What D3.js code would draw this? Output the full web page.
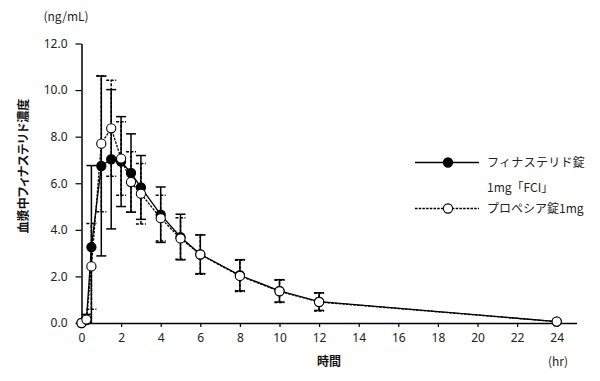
<!DOCTYPE html>
<html><head><meta charset="utf-8">
<script src="https://cdn.jsdelivr.net/npm/d3@7"></script>
<style>
body{margin:0;background:#fff;}
text{font-family:"Noto Sans CJK JP","Noto Sans",sans-serif;}
</style></head>
<body>
<svg id="c" width="600" height="381"></svg>
<script>
const times = [0, 0.25, 0.5, 1, 1.5, 2, 2.5, 3, 4, 5, 6, 8, 10, 12, 24];
const fciMean = [0, 0.12, 3.26, 6.74, 7.03, 6.93, 6.44, 5.82, 4.65, 3.69, 2.95, 2.05, 1.38, 0.92, 0.06];
const fciSD   = [0, 0.25, 3.5, 3.86, 2.99, 1.93, 1.68, 1.37, 1.19, 0.98, 0.83, 0.67, 0.48, 0.38, 0.04];
const propMean = [0, 0.15, 2.43, 7.7, 8.36, 7.06, 6.05, 5.55, 4.5, 3.63, 2.94, 2.02, 1.36, 0.9, 0.06];
const propSD   = [0, 0.1, 1.84, 2.92, 2.06, 1.58, 1.3, 1.3, 0.98, 0.89, 0.85, 0.67, 0.48, 0.38, 0.04];
const xTicks = [0,2,4,6,8,10,12,14,16,18,20,22,24];
const yTicks = [0,2,4,6,8,10,12];
const seriesNames = ["フィナステリド錠", "1mg「FCI」", "プロペシア錠1mg"];
const yTitle = "血漿中フィナステリド濃度";
const xTitle = "時間";
const yUnit = "(ng/mL)";
const xUnit = "(hr)";

const svg = d3.select("#c");
const x = d3.scaleLinear().domain([0,25]).range([81.5,576.5]);
const y = d3.scaleLinear().domain([0,12]).range([323,43.5]);

// axes
const xa = svg.append("g").attr("transform","translate(0,"+y(0)+")")
  .call(d3.axisBottom(x).tickValues(xTicks).tickSize(4).tickPadding(6).tickSizeOuter(0).tickFormat(d3.format("d")));
const ya = svg.append("g").attr("transform","translate("+x(0)+",0)")
  .call(d3.axisLeft(y).tickValues(yTicks).tickSize(6).tickPadding(8).tickSizeOuter(0).tickFormat(d3.format(".1f")));
[xa,ya].forEach(a=>{
  a.select(".domain").attr("stroke","#000").attr("stroke-width",1.5);
  a.selectAll(".tick line").attr("stroke","#000").attr("stroke-width",1.2);
  a.selectAll(".tick text").attr("font-size",12).attr("fill","#222")
   .style("font-family","'Noto Sans','Noto Sans CJK JP',sans-serif");
});

const series = [
  {mean: fciMean, sd: fciSD, dash: null, fill: "#000"},
  {mean: propMean, sd: propSD, dash: "3,1.5", fill: "#fff"}
];
const pts = s => times.map((t,i)=>({t, m:s.mean[i], lo:Math.max(0,s.mean[i]-s.sd[i]), hi:s.mean[i]+s.sd[i]}));

// error bars
series.slice().reverse().forEach(s=>{
  const g = svg.append("g").attr("stroke","#000").attr("stroke-width",1.5).attr("fill","none");
  if (s.dash) g.attr("stroke-dasharray", s.dash);
  const d = pts(s).filter(p=>p.hi-p.lo>0.15);
  g.selectAll(".v").data(d).join("line")
    .attr("x1",p=>x(p.t)).attr("x2",p=>x(p.t)).attr("y1",p=>y(p.lo)).attr("y2",p=>y(p.hi));
  g.selectAll(".ct").data(d).join("line")
    .attr("x1",p=>x(p.t)-5).attr("x2",p=>x(p.t)+5).attr("y1",p=>y(p.hi)).attr("y2",p=>y(p.hi));
  g.selectAll(".cb").data(d.filter(p=>p.lo>0)).join("line")
    .attr("x1",p=>x(p.t)-5).attr("x2",p=>x(p.t)+5).attr("y1",p=>y(p.lo)).attr("y2",p=>y(p.lo));
});

// lines
const line = d3.line().x(p=>x(p.t)).y(p=>y(p.m));
series.forEach(s=>{
  svg.append("path").datum(pts(s)).attr("d",line).attr("fill","none")
    .attr("stroke","#000").attr("stroke-width",1.3)
    .attr("stroke-dasharray", s.dash ? "2.5,1.2" : null);
});
// markers
series.forEach(s=>{
  svg.append("g").selectAll("circle").data(pts(s)).join("circle")
    .attr("cx",p=>x(p.t)).attr("cy",p=>y(p.m)).attr("r",4.6)
    .attr("fill",s.fill).attr("stroke","#000").attr("stroke-width",1.1);
});

// titles
svg.append("text").attr("x",66).attr("y",21).attr("text-anchor","middle")
  .attr("font-size",12).attr("fill","#222").text(yUnit);
svg.append("text").attr("transform","translate(28,166) rotate(-90)").attr("text-anchor","middle")
  .attr("font-size",12).attr("font-weight","bold").attr("fill","#111")
  .style("font-feature-settings","'palt'").text(yTitle);
svg.append("text").attr("x",329).attr("y",366).attr("text-anchor","middle")
  .attr("font-size",12).attr("font-weight","bold").attr("fill","#111").text(xTitle);
svg.append("text").attr("x",558).attr("y",366).attr("text-anchor","middle")
  .attr("font-size",12).attr("fill","#222").text(xUnit);

// legend
const lg = svg.append("g");
const legY = [162.5, 208.5];
series.forEach((s,i)=>{
  lg.append("line").attr("x1",415).attr("x2",479).attr("y1",legY[i]).attr("y2",legY[i])
    .attr("stroke","#000").attr("stroke-width",1.3).attr("stroke-dasharray", s.dash ? "2.5,1.2" : null);
  lg.append("circle").attr("cx",448).attr("cy",legY[i]).attr("r",4.6)
    .attr("fill",s.fill).attr("stroke","#000").attr("stroke-width",1.1);
});
lg.append("text").attr("x",487).attr("y",legY[0]+4.5).attr("font-size",12).attr("fill","#222").attr("letter-spacing",0.3).text(seriesNames[0]);
lg.append("text").attr("x",487).attr("y",187+4.5).attr("font-size",12).attr("fill","#222").text(seriesNames[1]);
lg.append("text").attr("x",487).attr("y",legY[1]+4.5).attr("font-size",12).attr("fill","#222").text(seriesNames[2]);
</script>
</body></html>
